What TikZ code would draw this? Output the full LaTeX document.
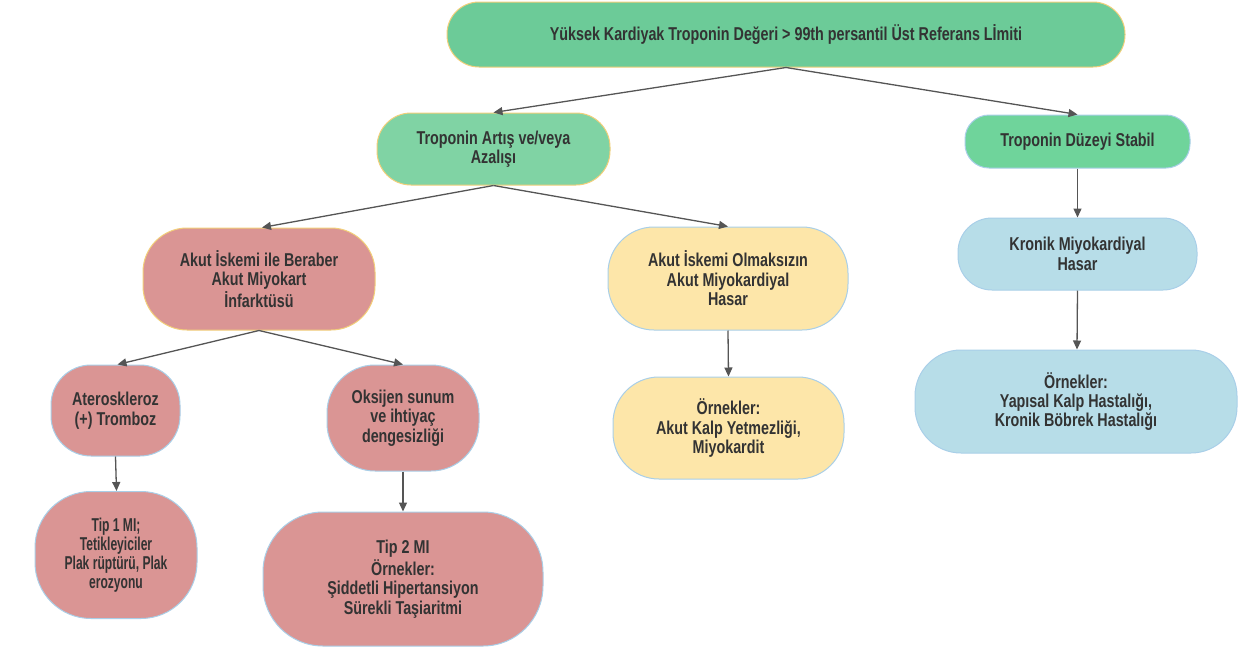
\documentclass[tikz,border=0pt]{standalone}
\usepackage{fontspec}
\setmainfont{Liberation Sans}[FakeStretch=0.77]
\newfontfamily\narrowf{Liberation Sans}[FakeStretch=0.65]
\usetikzlibrary{arrows.meta}
\definecolor{txt}{HTML}{333333}
\definecolor{lnk}{HTML}{555555}
\definecolor{gTop}{HTML}{6CCB98}
\definecolor{gMid}{HTML}{80D3A4}
\definecolor{gStab}{HTML}{6FD49B}
\definecolor{pinkF}{HTML}{DA9594}
\definecolor{yelF}{HTML}{FDE6A9}
\definecolor{bluF}{HTML}{B7DDE8}
\definecolor{yelB}{HTML}{F2CF7A}
\definecolor{bluB}{HTML}{A9CFE8}
\tikzset{
  box/.style={draw, line width=0.5pt, align=center, inner sep=0pt, text=txt,
    font=\fontsize{9.3pt}{9.7pt}\selectfont\bfseries},
  link/.style={draw=lnk, line width=0.65pt, -{Triangle[length=4.5pt,width=4pt]}, shorten >=0pt}
}
\begin{document}
\begin{tikzpicture}[x=0.5pt,y=-0.5pt]
\useasboundingbox (0,0) rectangle (1259,659);
\fill[white] (0,0) rectangle (1259,659);

\node[box, fill=gTop, draw=yelB, minimum width=339pt, minimum height=32.5pt, rounded corners=16pt] (top) at (786,34.5)
  {Yüksek Kardiyak Troponin Değeri > 99th persantil Üst Referans Lİmiti};
\node[box, fill=gMid, draw=yelB, minimum width=116.5pt, minimum height=36pt, rounded corners=17pt] (artis) at (493.5,149)
  {Troponin Artış ve/veya\\Azalışı};
\node[box, fill=gStab, draw=bluB, minimum width=112.5pt, minimum height=26.5pt, rounded corners=12pt] (stabil) at (1077.5,141.5)
  {Troponin Düzeyi Stabil};
\node[box, fill=pinkF, draw=yelB, minimum width=116pt, minimum height=51pt, rounded corners=22pt] (beraber) at (259,279)
  {Akut İskemi ile Beraber\\Akut Miyokart\\İnfarktüsü};
\node[box, fill=yelF, draw=bluB, minimum width=120pt, minimum height=51.5pt, rounded corners=23pt] (olmaksizin) at (728,278.5)
  {Akut İskemi Olmaksızın\\Akut Miyokardiyal\\Hasar};
\node[box, fill=bluF, draw=bluB, minimum width=119.5pt, minimum height=36pt, rounded corners=17pt] (kronik) at (1077.5,254)
  {Kronik Miyokardiyal\\Hasar};
\node[box, fill=pinkF, draw=bluB, minimum width=64.5pt, minimum height=45.5pt, rounded corners=20pt] (ater) at (115.5,410.5)
  {Ateroskleroz\\(+) Tromboz};
\node[box, fill=pinkF, draw=bluB, minimum width=76pt, minimum height=53pt, rounded corners=24pt] (oksijen) at (403,418)
  {Oksijen sunum\\ve ihtiyaç\\dengesizliği};
\node[box, fill=pinkF, draw=bluB, minimum width=81pt, minimum height=63.5pt, rounded corners=28pt,
  font=\fontsize{9.3pt}{9.5pt}\narrowf\bfseries] (tip1) at (116,555)
  {Tip 1 MI;\\Tetikleyiciler\\Plak rüptürü, Plak\\erozyonu};
\node[box, fill=pinkF, draw=bluB, minimum width=140pt, minimum height=67pt, rounded corners=30pt] (tip2) at (403,579)
  {Tip 2 MI\\Örnekler:\\Şiddetli Hipertansiyon\\Sürekli Taşiaritmi};
\node[box, fill=yelF, draw=bluB, minimum width=115.5pt, minimum height=51pt, rounded corners=23pt] (ornmid) at (728.5,428)
  {Örnekler:\\Akut Kalp Yetmezliği,\\Miyokardit};
\node[box, fill=bluF, draw=bluB, minimum width=161pt, minimum height=51.5pt, rounded corners=23pt] (ornright) at (1076,401.5)
  {Örnekler:\\Yapısal Kalp Hastalığı,\\Kronik Böbrek Hastalığı};

\draw[link] (top.south) -- (artis.north);
\draw[link] (top.south) -- (stabil.north);
\draw[link] (artis.south) -- ([xshift=1.5pt]beraber.north);
\draw[link] (artis.south) -- (olmaksizin.north);
\draw[link] (stabil.south) -- (kronik.north);
\draw[link] (kronik.south) -- ([xshift=0.5pt]ornright.north);
\draw[link] (beraber.south) -- ([xshift=1pt]ater.north);
\draw[link] (beraber.south) -- (oksijen.north);
\draw[link] (ater.south) -- ([xshift=0.25pt]tip1.north);
\draw[link] (oksijen.south) -- (tip2.north);
\draw[link] (olmaksizin.south) -- (ornmid.north);
\end{tikzpicture}
\end{document}
